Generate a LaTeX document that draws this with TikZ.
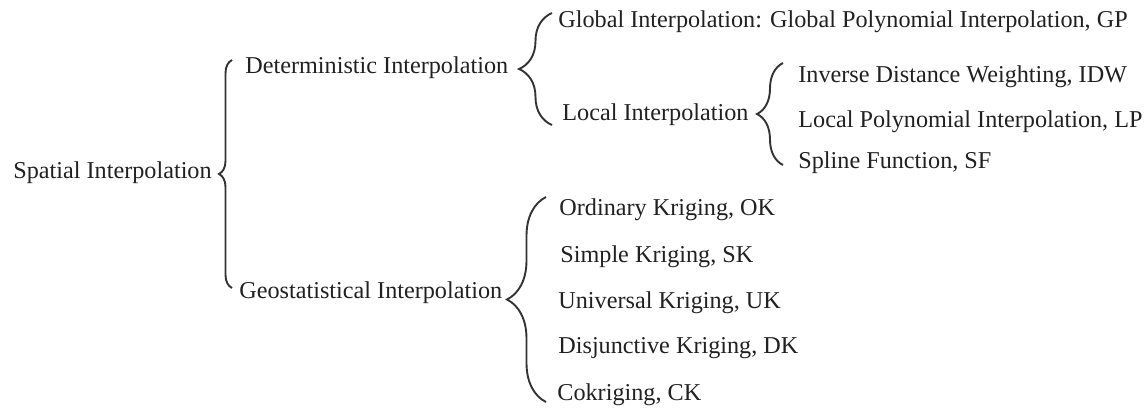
\documentclass[tikz,border=0pt]{standalone}
\usepackage{fontspec}
\setmainfont{Liberation Serif}
\usetikzlibrary{decorations.pathreplacing}
\tikzset{
  lbl/.style = {anchor=base west, inner sep=0pt, text=black!87, font=\fontsize{12.1}{14}\selectfont},
  brc/.style = {decorate, line width=.95pt, black!80}
}

\begin{document}
\begin{tikzpicture}[x=0.5pt, y=-0.5pt]
        \useasboundingbox (0,0) rectangle (1147,408);
        % first level
        \node[lbl] (spatial) at (13,178) {Spatial Interpolation};
        \node[lbl] (determ) at (245,73) {Deterministic Interpolation};
        \node[lbl] (geo) at (239,298) {Geostatistical Interpolation};
        % deterministic branch
        \node[lbl] (global) at (558,27) {Global Interpolation: Global Polynomial Interpolation, GP};
        \node[lbl] (local) at (562,120) {Local Interpolation};
        \node[lbl] (idw) at (798,82) {Inverse Distance Weighting, IDW};
        \node[lbl] (lp) at (798,127) {Local Polynomial Interpolation, LP};
        \node[lbl] (sf) at (798,168) {Spline Function, SF};
        % geostatistical branch
        \node[lbl] (ok) at (559,215) {Ordinary Kriging, OK};
        \node[lbl] (sk) at (560,262) {Simple Kriging, SK};
        \node[lbl] (uk) at (558,308) {Universal Kriging, UK};
        \node[lbl] (dk) at (558,353) {Disjunctive Kriging, DK};
        \node[lbl] (ck) at (557,400) {Cokriging, CK};
        % brace ends
        \coordinate (spatialtop) at (232,60);
        \coordinate (spatialbot) at (232,288);
        \coordinate (determtop) at (552,13);
        \coordinate (determbot) at (552,125);
        \coordinate (localtop) at (783,63);
        \coordinate (localbot) at (783,165);
        \coordinate (geotop) at (546,197);
        \coordinate (geobot) at (546,402);
        \draw[brc, decoration={brace, amplitude=6.5pt}] (spatialbot) -- (spatialtop);
        \draw[brc, decoration={brace, amplitude=16.5pt}] (determbot) -- (determtop);
        \draw[brc, decoration={brace, amplitude=13pt}] (localbot) -- (localtop);
        \draw[brc, decoration={brace, amplitude=19.5pt}] (geobot) -- (geotop);
\end{tikzpicture}
\end{document}
